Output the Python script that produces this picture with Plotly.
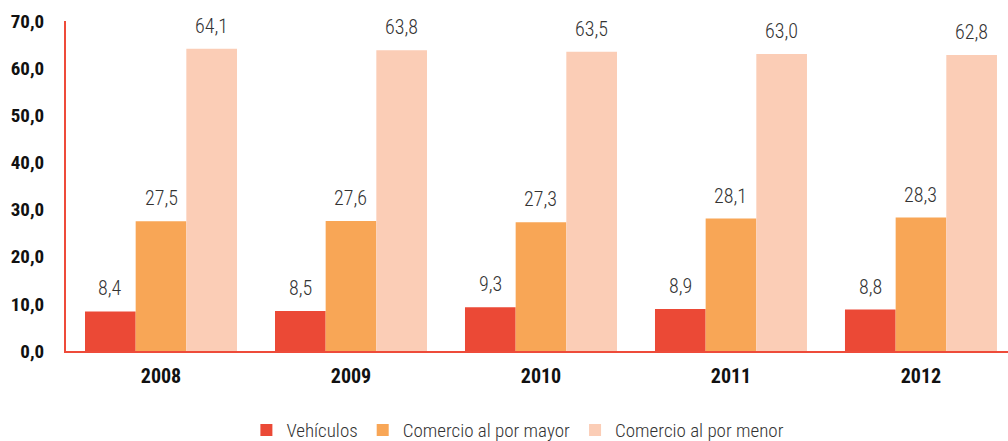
import plotly.graph_objects as go

years = ["2008", "2009", "2010", "2011", "2012"]
vehiculos = [8.4, 8.5, 9.3, 8.9, 8.8]
mayor = [27.5, 27.6, 27.3, 28.1, 28.3]
menor = [64.1, 63.8, 63.5, 63.0, 62.8]

series = [
    ("Vehículos", vehiculos, "#EB4936"),
    ("Comercio al por mayor", mayor, "#F8A656"),
    ("Comercio al por menor", menor, "#FBCDB6"),
]

FONT = "Roboto Condensed, Liberation Sans Narrow, Roboto, sans-serif"

fig = go.Figure()
for name, vals, col in series:
    fig.add_trace(go.Bar(
        x=years, y=vals, name=name, marker=dict(color=col, line=dict(width=0)),
        textposition="none",
    ))

offsets = [-1, 0, 1]
for (name, vals, col), off in zip(series, offsets):
    for i, v in enumerate(vals):
        fig.add_annotation(
            x=i + off * 0.2667, y=v, xref="x", yref="y",
            text=f"{v:.1f}".replace(".", ","), showarrow=False,
            yanchor="bottom", yshift=9,
            font=dict(family=FONT, size=20, color="#333333", weight=300),
        )

fig.update_layout(
    width=1008, height=441,
    margin=dict(l=66, r=0, t=21, b=90, autoexpand=False),
    paper_bgcolor="white", plot_bgcolor="white",
    barmode="group", bargap=0.2, bargroupgap=0,
    separators=",.",
    showlegend=True,
    legend=dict(orientation="h", x=0.1915, xanchor="left", y=-0.182, yanchor="top",
                font=dict(family=FONT, size=19, color="#333333", weight=300),
                itemwidth=30, traceorder="normal"),
    font=dict(family=FONT),
)
fig.update_xaxes(
    type="category", range=[-0.5, 4.458], automargin=False,
    showline=True, linecolor="#EE4B3A", linewidth=2,
    ticks="", showgrid=False, ticklabelstandoff=6,
    tickfont=dict(family=FONT, size=20, color="#111111", weight="bold"),
)
fig.update_yaxes(
    range=[0, 70], tickvals=[0, 10, 20, 30, 40, 50, 60, 70], tickformat=".1f",
    automargin=False,
    showline=True, linecolor="#EE4B3A", linewidth=2,
    ticks="", showgrid=False, zeroline=False, ticklabelstandoff=16,
    tickfont=dict(family=FONT, size=19, color="#111111", weight="bold"),
)

fig.write_html("out.html", config={"displayModeBar": False},
               post_script="document.body.style.margin='0';")
